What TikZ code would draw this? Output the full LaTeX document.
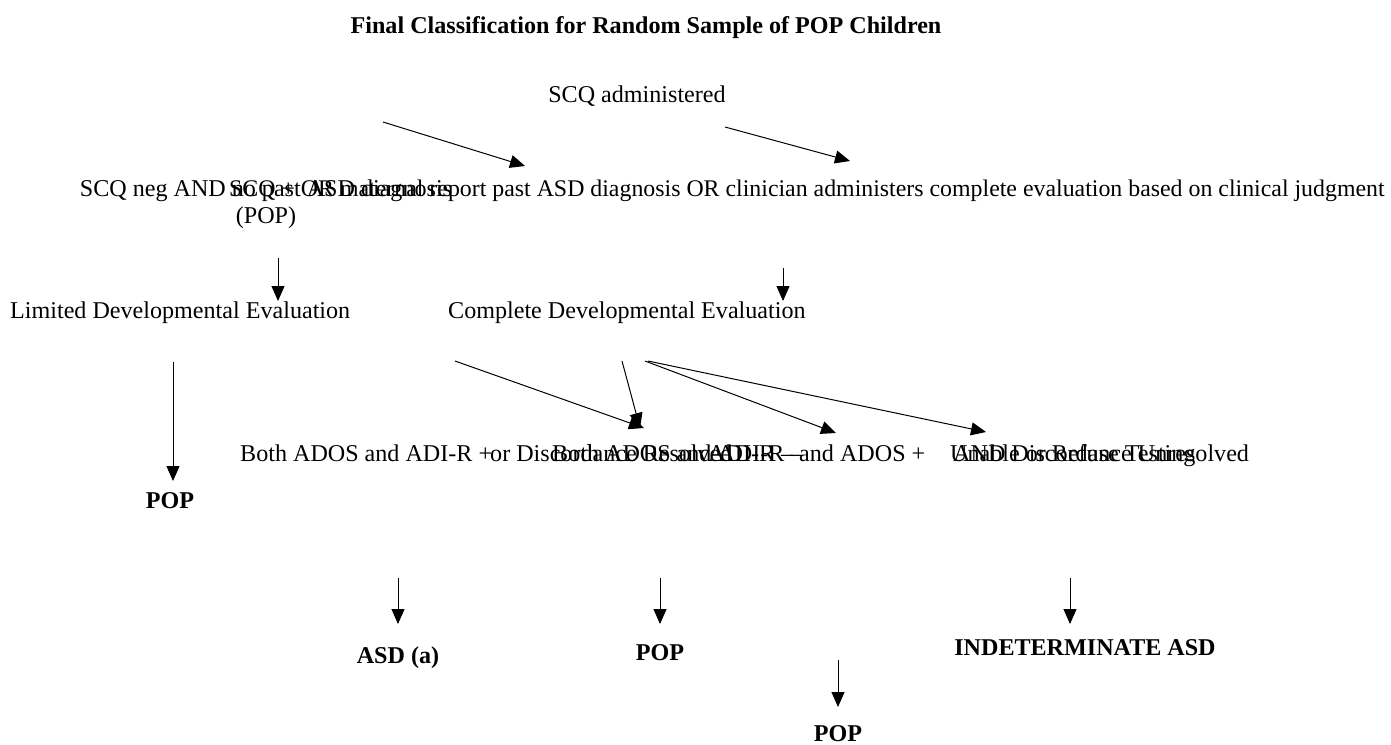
\documentclass[tikz,border=0pt]{standalone}
\usepackage{fontspec}
\setmainfont{Liberation Serif}
\usetikzlibrary{arrows.meta}
\begin{document}
\begin{tikzpicture}[x=1pt,y=-1pt,
  lbl/.style={inner sep=0pt,font=\fontsize{24.1}{27}\selectfont},
  bld/.style={inner sep=0pt,font=\fontsize{24.1}{27}\selectfont\bfseries},
  arr/.style={line width=1pt,-{Triangle[length=15pt,width=13pt]}}]
\useasboundingbox (0,0) rectangle (1391,744);
% title
\node[bld,anchor=base] (title) at (646,33) {Final Classification for Random Sample of POP Children};
% top
\node[lbl,anchor=base] (scq) at (637,102) {SCQ administered};
\node[lbl,anchor=base,align=center] (neg) at (266,223) {SCQ neg AND no past ASD diagnosis\\(POP)};
\node[lbl,anchor=base west,font=\fontsize{23.85}{27}\selectfont] (pos) at (229,196) {SCQ + OR maternal report past ASD diagnosis OR clinician administers complete evaluation based on clinical judgment};
\node[lbl,anchor=base west] (lim) at (10,318) {Limited Developmental Evaluation};
\node[lbl,anchor=base west] (comp) at (448,318) {Complete Developmental Evaluation};
\node[bld,anchor=base] (pop1) at (170,508) {POP};
% bottom row
\node[lbl,anchor=base west] (b1) at (240,461) {Both ADOS and ADI-R +};
\node[lbl,anchor=base west] (b2) at (490,461) {or Discordance Resolved};
\node[lbl,anchor=base west] (b3) at (552,461) {Both ADOS and ADI-R --};
\node[lbl,anchor=base west] (b4) at (708,461) {ADI-R -- and ADOS +};
\node[lbl,anchor=base west] (b5) at (953,461) {AND Discordance Unresolved};
\node[lbl,anchor=base west] (b6) at (950,461) {Unable or Refuse Testing};
% terminals
\node[bld,anchor=base] (asd) at (398,663) {ASD (a)};
\node[bld,anchor=base] (pop2) at (660,660) {POP};
\node[bld,anchor=base] (ind) at (1085,655) {INDETERMINATE ASD};
\node[bld,anchor=base] (pop3) at (838,741) {POP};
% connector end points
\coordinate (s1) at (383,122); \coordinate (e1) at (525,166);
\coordinate (s2) at (725,127); \coordinate (e2) at (850,161);
\coordinate (s3) at (278,258); \coordinate (e3) at (278,301);
\coordinate (s4) at (783,268); \coordinate (e4) at (783,301);
\coordinate (s5) at (173,362); \coordinate (e5) at (173,481);
\coordinate (s6) at (455,361); \coordinate (e6) at (644,428);
\coordinate (s7) at (622,361); \coordinate (e7) at (640,428);
\coordinate (s8) at (645,361); \coordinate (e8) at (836,433);
\coordinate (s9) at (648,361); \coordinate (e9) at (986,432);
\coordinate (s10) at (398,578); \coordinate (e10) at (398,624);
\coordinate (s11) at (660,578); \coordinate (e11) at (660,624);
\coordinate (s12) at (1070,578); \coordinate (e12) at (1070,624);
\coordinate (s13) at (838,660); \coordinate (e13) at (838,707);
\foreach \i in {1,...,13} {\draw[arr] (s\i) -- (e\i);}
\end{tikzpicture}
\end{document}
